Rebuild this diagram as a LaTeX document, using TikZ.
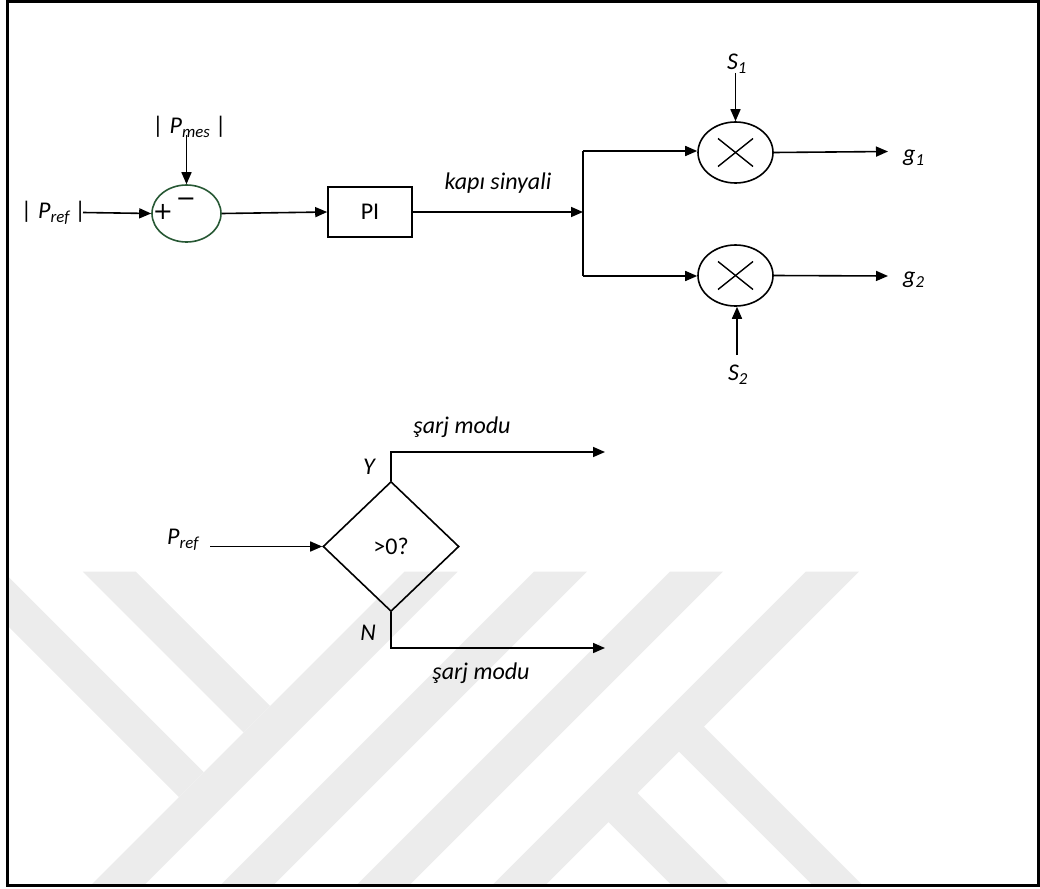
\documentclass[tikz,border=0pt]{standalone}
\usepackage{fontspec}
\setmainfont{Carlito}
\newfontfamily\signfont{DejaVu Sans}
\usetikzlibrary{shapes.geometric,arrows.meta}
\definecolor{sumgreen}{RGB}{39,88,52}
\definecolor{wmgray}{RGB}{236,236,236}
\tikzset{
  lbl/.style={font=\fontsize{24}{28}\selectfont\itshape, inner sep=0pt},
  sign/.style={font=\signfont\fontsize{24}{28}\selectfont, inner sep=0pt},
  conn/.style={line width=1.6pt},
  arr/.style={conn, -{Triangle[length=12pt,width=10pt]}},
  sumnode/.style={ellipse, draw=sumgreen, line width=1.6pt, minimum width=69pt, minimum height=57pt, inner sep=0pt},
  mulnode/.style={ellipse, draw, line width=1.6pt, minimum width=75pt, minimum height=61pt, inner sep=0pt},
  blockbox/.style={rectangle, draw, line width=1.6pt, minimum width=84pt, minimum height=50pt, inner sep=0pt, font=\fontsize{24}{28}\selectfont},
  decbox/.style={diamond, draw, line width=1.6pt, minimum width=136pt, minimum height=130pt, inner sep=0pt, font=\fontsize{24}{28}\selectfont},
  wm/.style={fill=wmgray, draw=none},
}
\begin{document}
\begin{tikzpicture}[x=1pt,y=-1pt]
\useasboundingbox (0,0) rectangle (1040,888);

% watermark
\begin{scope}
\clip (8.6,571.7) rectangle (1037.4,884.4);
\fill[wm] (-46.4,571.7) -- (3.3,571.7) -- (203.9,772.3) -- (179,797.2) -- cycle;
\fill[wm] (82.9,571.7) -- (135.9,571.7) -- (270.2,706) -- (243.7,732.5) -- cycle;
\fill[wm] (404.5,571.7) -- (457.6,571.7) -- (137.6,891.7) -- (84.5,891.7) -- cycle;
\fill[wm] (533.8,571.7) -- (586.9,571.7) -- (266.9,891.7) -- (213.8,891.7) -- cycle;
\fill[wm] (669.8,571.7) -- (722.8,571.7) -- (402.8,891.7) -- (349.8,891.7) -- cycle;
\fill[wm] (805.7,571.7) -- (858.8,571.7) -- (538.8,891.7) -- (485.7,891.7) -- cycle;
\fill[wm] (665.5,738.2) -- (690.5,713.2) -- (869,891.7) -- (819,891.7) -- cycle;
\fill[wm] (595,808.7) -- (624,779.7) -- (736,891.7) -- (678,891.7) -- cycle;
\end{scope}

\draw[line width=2.2pt] (7.5,1.5) rectangle (1038.5,885.5);

% summing junction
\node[sumnode] (sum) at (186.5,213.5) {};
\node[sign] (plus) at (163,212) {+};
\node[sign, anchor=base] (minus) at (186,206.5) {−};
\node[lbl] (pref) at (54,213) {| P\textsubscript{ref} |};
\node[lbl] (pmes) at (190,127) {| P\textsubscript{mes} |};
\coordinate (prefs) at (83,212.5);
\coordinate (pmess) at (186.5,135);
\draw[arr] (prefs) -- (sum.west);
\draw[arr] (pmess) -- (sum.north);

% PI
\node[blockbox] (pi) at (370,212) {PI};
\draw[arr] (sum.east) -- (pi.west);
\coordinate (split) at (583,212);
\draw[arr] (pi.east) -- (split);
\node[lbl] (kapi) at (498,183) {kapı sinyali};
\coordinate (top) at (583,151);
\coordinate (bot) at (583,276);
\draw[conn] (top) -- (bot);

% multipliers
\node[mulnode] (m1) at (735.5,152.5) {};
\node[mulnode] (m2) at (735.5,275.5) {};
\draw[line width=1.4pt] ([shift={(-17.5,-14)}]m1.center) -- ([shift={(17.5,14)}]m1.center);
\draw[line width=1.4pt] ([shift={(-17.5,14)}]m1.center) -- ([shift={(17.5,-14)}]m1.center);
\draw[line width=1.4pt] ([shift={(-17.5,-14)}]m2.center) -- ([shift={(17.5,14)}]m2.center);
\draw[line width=1.4pt] ([shift={(-17.5,14)}]m2.center) -- ([shift={(17.5,-14)}]m2.center);
\draw[arr] (top) -- (top -| m1.west);
\draw[arr] (bot) -- (bot -| m2.west);

\node[lbl] (s1) at (737,64) {S\textsubscript{1}};
\node[lbl] (s2) at (738,375) {S\textsubscript{2}};
\coordinate (s1s) at (735.5,73);
\coordinate (s2s) at (737,355);
\draw[arr] (s1s) -- (m1.north);
\draw[arr] (s2s) -- (s2s |- m2.south);

\coordinate (g1e) at (888,151.5);
\coordinate (g2e) at (888,276);
\draw[arr] (m1.east) -- (g1e);
\draw[arr] (m2.east) -- (g2e);
\node[lbl, anchor=west] (g1) at (903,158) {g\textsubscript{1}};
\node[lbl, anchor=west] (g2) at (903,280) {g\textsubscript{2}};

% decision
\node[decbox] (dec) at (391,546.5) {>0?};
\node[lbl] (pref2) at (183,540) {P\textsubscript{ref}};
\coordinate (pref2s) at (210,546.5);
\draw[arr] (pref2s) -- (dec.west);
\coordinate (ycor) at (391,452);
\coordinate (yend) at (605,452);
\coordinate (ncor) at (391,648);
\coordinate (nend) at (605,648);
\draw[arr] (dec.north) -- (ycor) -- (yend);
\draw[arr] (dec.south) -- (ncor) -- (nend);
\node[lbl] (ylbl) at (369,467) {Y};
\node[lbl] (nlbl) at (368,633) {N};
\node[lbl] (sarj1) at (462,427) {şarj modu};
\node[lbl] (sarj2) at (481,673) {şarj modu};
\end{tikzpicture}
\end{document}
